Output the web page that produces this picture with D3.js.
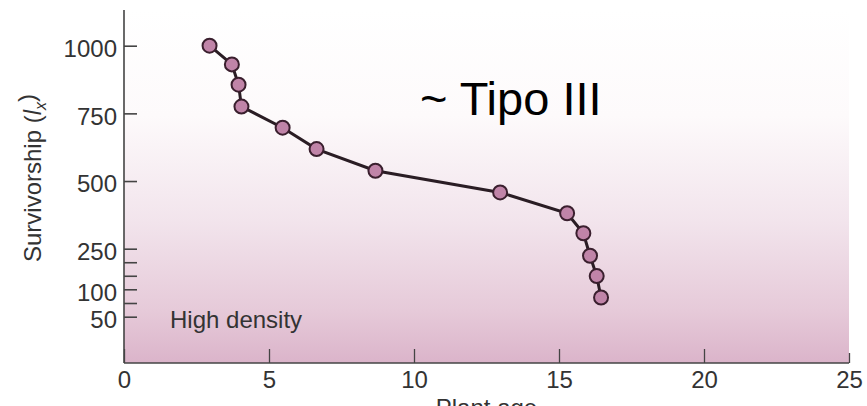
<!DOCTYPE html>
<html>
<head>
<meta charset="utf-8">
<script src="https://cdn.jsdelivr.net/npm/d3@7"></script>
<style>
  body { margin: 0; background: #fff; }
  text { font-family: "Liberation Sans", Arial, sans-serif; }
</style>
</head>
<body>
<div id="chart"></div>
<script>

// survivorship data (plant age vs lx)
var ages = [2.95, 3.72, 3.95, 4.05, 5.47, 6.64, 8.67, 12.97, 15.28, 15.84, 16.07, 16.3, 16.45];
var survivors = [1000, 931, 856, 775, 697, 618, 538, 458, 381, 307, 224, 149, 85];

var xTicks = [0, 5, 10, 15, 20, 25];
var yTicks = [50, 75, 100, 150, 200, 250, 500, 750, 1000];
var yLabelled = [50, 100, 250, 500, 750, 1000];

var width = 867, height = 406;

var svg = d3.select("#chart").append("svg")
	.attr("width", width)
	.attr("height", height);

// x is linear, y axis is broken: linear above 100, stretched below
var x = d3.scaleLinear().domain([0, 25]).range([124, 849]);
var y = d3.scaleLinear().domain([50, 100, 1000]).range([316.7, 289.3, 45.7]);

var axisY = 363, axisTop = 10;

// background gradient
var grad = svg.append("defs").append("linearGradient")
	.attr("id", "bg")
	.attr("x1", 0).attr("y1", 0).attr("x2", 0).attr("y2", 1);
grad.append("stop").attr("offset", "0%").attr("stop-color", "#ffffff");
grad.append("stop").attr("offset", "30%").attr("stop-color", "#fdfafb");
grad.append("stop").attr("offset", "60%").attr("stop-color", "#f2e4ec");
grad.append("stop").attr("offset", "85%").attr("stop-color", "#e6cad9");
grad.append("stop").attr("offset", "100%").attr("stop-color", "#dbb4ca");

svg.append("rect")
	.attr("x", x(0))
	.attr("y", axisTop)
	.attr("width", x(25) - x(0))
	.attr("height", axisY - axisTop)
	.style("fill", "url(#bg)");

// x axis
var gx = svg.append("g")
	.attr("transform", "translate(0," + axisY + ")")
	.call(d3.axisBottom(x).tickValues(xTicks).tickSizeInner(-14).tickSizeOuter(0).tickPadding(8));
gx.select(".domain").remove();
gx.selectAll(".tick line").style("stroke", "#444").style("stroke-width", 1.3);
gx.selectAll(".tick").filter(function(d) { return d === 25; }).select("line").attr("y2", -10);
gx.selectAll(".tick text")
	.style("font-size", "24px")
	.style("fill", "#333");

// y axis
var gy = svg.append("g")
	.attr("transform", "translate(" + x(0) + ",0)")
	.call(d3.axisLeft(y).tickValues(yTicks).tickSizeInner(-13).tickSizeOuter(0).tickPadding(7)
		.tickFormat(function(d) { return yLabelled.indexOf(d) >= 0 ? d : ""; }));
gy.select(".domain").remove();
gy.selectAll(".tick line").style("stroke", "#444").style("stroke-width", 1.6);
gy.selectAll(".tick text")
	.attr("dy", "0.45em")
	.style("font-size", "24px")
	.style("fill", "#333");

// axis lines
svg.append("line")
	.attr("x1", x(0)).attr("x2", x(0))
	.attr("y1", axisTop).attr("y2", axisY)
	.style("stroke", "#444").style("stroke-width", 1.6);
svg.append("line")
	.attr("x1", x(0)).attr("x2", x(25))
	.attr("y1", axisY).attr("y2", axisY)
	.style("stroke", "#444").style("stroke-width", 1.6);

// axis titles
var ylab = svg.append("text")
	.attr("transform", "translate(41,178) rotate(-90)")
	.attr("text-anchor", "middle")
	.style("font-size", "24px")
	.style("fill", "#333");
ylab.append("tspan").text("Survivorship (");
ylab.append("tspan").text("l").style("font-style", "italic");
ylab.append("tspan").text("x").attr("dy", "0.3em").style("font-size", "16px").style("font-style", "italic");
ylab.append("tspan").text(")").attr("dy", "-0.45em");

// cut off at the bottom edge, as in the figure
svg.append("text")
	.attr("x", (x(0) + x(25)) / 2)
	.attr("y", 416)
	.attr("text-anchor", "middle")
	.text("Plant age")
	.style("font-size", "24px")
	.style("fill", "#333");

svg.append("text")
	.attr("x", 170)
	.attr("y", 328)
	.text("High density")
	.style("font-size", "24px")
	.style("fill", "#333");

svg.append("text")
	.attr("x", 420)
	.attr("y", 115)
	.text("~ Tipo III")
	.style("font-size", "47px")
	.style("fill", "#000");

// curve and points
var pts = ages.map(function(a, i) { return [a, survivors[i]]; });

svg.append("path")
	.datum(pts)
	.attr("d", d3.line().x(function(d) { return x(d[0]); }).y(function(d) { return y(d[1]); }))
	.style("fill", "none")
	.style("stroke", "#2a1d24")
	.style("stroke-width", 3);

svg.selectAll("circle.pt")
	.data(pts)
	.enter().append("circle")
	.attr("class", "pt")
	.attr("cx", function(d) { return x(d[0]); })
	.attr("cy", function(d) { return y(d[1]); })
	.attr("r", 7)
	.style("fill", "#c084a8")
	.style("stroke", "#3a1f2e")
	.style("stroke-width", 2);

</script>
</body>
</html>
